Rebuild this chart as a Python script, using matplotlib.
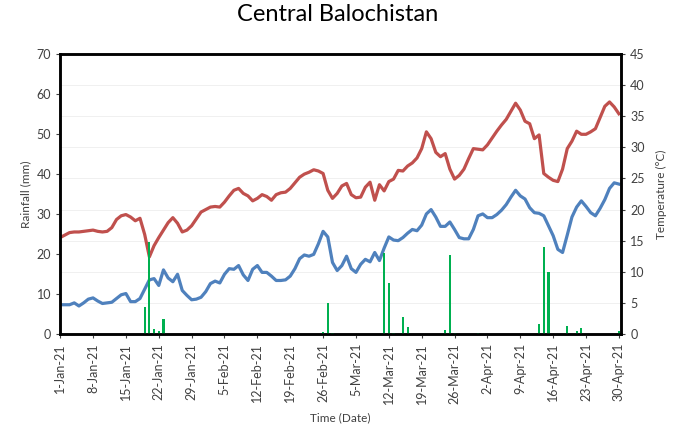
import pandas as pd
import matplotlib.pyplot as plt
import matplotlib.dates as mdates

plt.rcParams['font.family'] = ['Lato', 'DejaVu Sans']

dates = pd.date_range("2021-01-01", "2021-04-30", freq="D")

# max temperature (°C)
t_max = [15.5, 15.9, 16.3, 16.4, 16.4, 16.5, 16.6, 16.7, 16.5, 16.4,
         16.5, 17.1, 18.4, 19.0, 19.2, 18.8, 18.2, 18.6, 16.0, 12.4,
         14.2, 15.5, 16.7, 17.9, 18.7, 17.8, 16.4, 16.7, 17.4, 18.5,
         19.6, 20.0, 20.4, 20.5, 20.4, 21.2, 22.2, 23.1, 23.4, 22.6,
         22.2, 21.4, 21.8, 22.4, 22.1, 21.5, 22.4, 22.7, 22.8, 23.4,
         24.3, 25.2, 25.7, 26.0, 26.4, 26.2, 25.8, 23.1, 21.8, 22.6,
         23.8, 24.2, 22.4, 21.9, 22.0, 23.6, 24.4, 21.5, 24.0, 23.0,
         24.5, 24.9, 26.3, 26.2, 27.0, 27.5, 28.3, 29.8, 32.5, 31.4,
         29.2, 28.5, 29.0, 26.5, 24.9, 25.5, 26.5, 28.2, 29.8, 29.7,
         29.6, 30.4, 31.5, 32.6, 33.6, 34.5, 35.8, 37.1, 36.0, 34.2,
         33.8, 31.4, 32.0, 25.8, 25.2, 24.7, 24.5, 26.5, 29.8, 31.0,
         32.6, 32.1, 32.1, 32.5, 33.0, 34.8, 36.6, 37.3, 36.5, 35.4]

# min temperature (°C)
t_min = [4.7, 4.7, 4.7, 5.0, 4.5, 5.0, 5.6, 5.8, 5.3, 4.9,
         5.0, 5.1, 5.7, 6.3, 6.5, 5.2, 5.2, 5.7, 7.2, 8.7,
         8.9, 7.8, 10.3, 9.0, 8.4, 9.6, 7.0, 6.2, 5.5, 5.6,
         5.9, 6.8, 8.1, 8.5, 8.2, 9.6, 10.5, 10.4, 11.0, 9.5,
         8.6, 10.4, 11.0, 9.9, 9.9, 9.3, 8.6, 8.6, 8.7, 9.3,
         10.5, 12.1, 12.7, 12.5, 12.8, 14.5, 16.5, 15.6, 11.5, 10.2,
         11.0, 12.5, 10.5, 9.9, 11.2, 12.0, 11.6, 13.1, 11.8, 13.8,
         15.6, 15.1, 15.0, 15.5, 16.2, 16.8, 16.6, 17.5, 19.3, 20.0,
         18.8, 17.3, 17.3, 18.0, 16.8, 15.5, 15.3, 15.3, 16.8, 19.0,
         19.3, 18.7, 18.7, 19.2, 19.9, 20.8, 22.0, 23.1, 22.2, 21.7,
         20.3, 19.5, 19.4, 19.0, 17.4, 15.8, 13.6, 13.1, 15.9, 18.8,
         20.4, 21.4, 20.5, 19.5, 19.0, 20.2, 21.6, 23.4, 24.3, 24.1]

# rainfall (mm), only the days with rain
rain_dates = pd.to_datetime(["2021-01-19", "2021-01-20", "2021-01-21", "2021-01-22",
                             "2021-01-23", "2021-02-26", "2021-02-27", "2021-02-28",
                             "2021-03-11", "2021-03-12", "2021-03-13", "2021-03-15",
                             "2021-03-16", "2021-03-24", "2021-03-25", "2021-03-26",
                             "2021-03-31", "2021-04-13", "2021-04-14", "2021-04-15",
                             "2021-04-19", "2021-04-21", "2021-04-22", "2021-04-30"])
rain_mm = [6.8, 23.0, 1.2, 0.8, 3.7, 0.4, 7.8, 0.3,
           20.3, 12.7, 0.3, 4.3, 1.7, 0.9, 19.7, 0.2,
           0.2, 2.4, 21.8, 15.6, 2.0, 0.8, 1.5, 0.8]

txt = '#404040'

fig, ax = plt.subplots(figsize=(6.76, 4.36), dpi=100)
fig.subplots_adjust(left=0.089, right=0.919, top=0.876, bottom=0.234)
ax2 = ax.twinx()

ax2.plot(dates, t_max, color='#C0504D', lw=2.3, solid_joinstyle='round')
ax2.plot(dates, t_min, color='#4F81BD', lw=2.3, solid_joinstyle='round')
ax.bar(rain_dates, rain_mm, width=0.45, color='#00B050', align='center')

# bars drawn over the lines
ax.set_zorder(ax2.get_zorder() + 1)
ax.patch.set_visible(False)

ax.set_ylim(0, 70)
ax.set_yticks(range(0, 71, 10))
ax2.set_ylim(0, 45)
ax2.set_yticks(range(0, 46, 5))
ax.set_xlim(dates[0], dates[-1] + pd.Timedelta(hours=12))

ax.set_xticks(dates[::7])
ax.xaxis.set_major_formatter(mdates.DateFormatter('%-d-%b-%y'))
plt.setp(ax.get_xticklabels(), rotation=90)

ax2.grid(True, color='#eeeeee', lw=0.6)
ax2.xaxis.grid(True, color='#f2f2f2', lw=0.6)

for a in (ax, ax2):
    a.tick_params(labelsize=9, colors=txt, length=3, width=0.8)
    for s in a.spines.values():
        s.set_linewidth(1.8)
        s.set_color('black')

ax.set_ylabel("Rainfall (mm)", fontsize=8.5, color=txt)
ax2.set_ylabel("Temperature (°C)", fontsize=8.5, color=txt, labelpad=8)
ax.set_xlabel("Time (Date)", fontsize=8.5, color=txt, labelpad=6)
fig.suptitle("Central Balochistan", fontsize=17, y=0.99)

plt.savefig("out.png", dpi=100)
